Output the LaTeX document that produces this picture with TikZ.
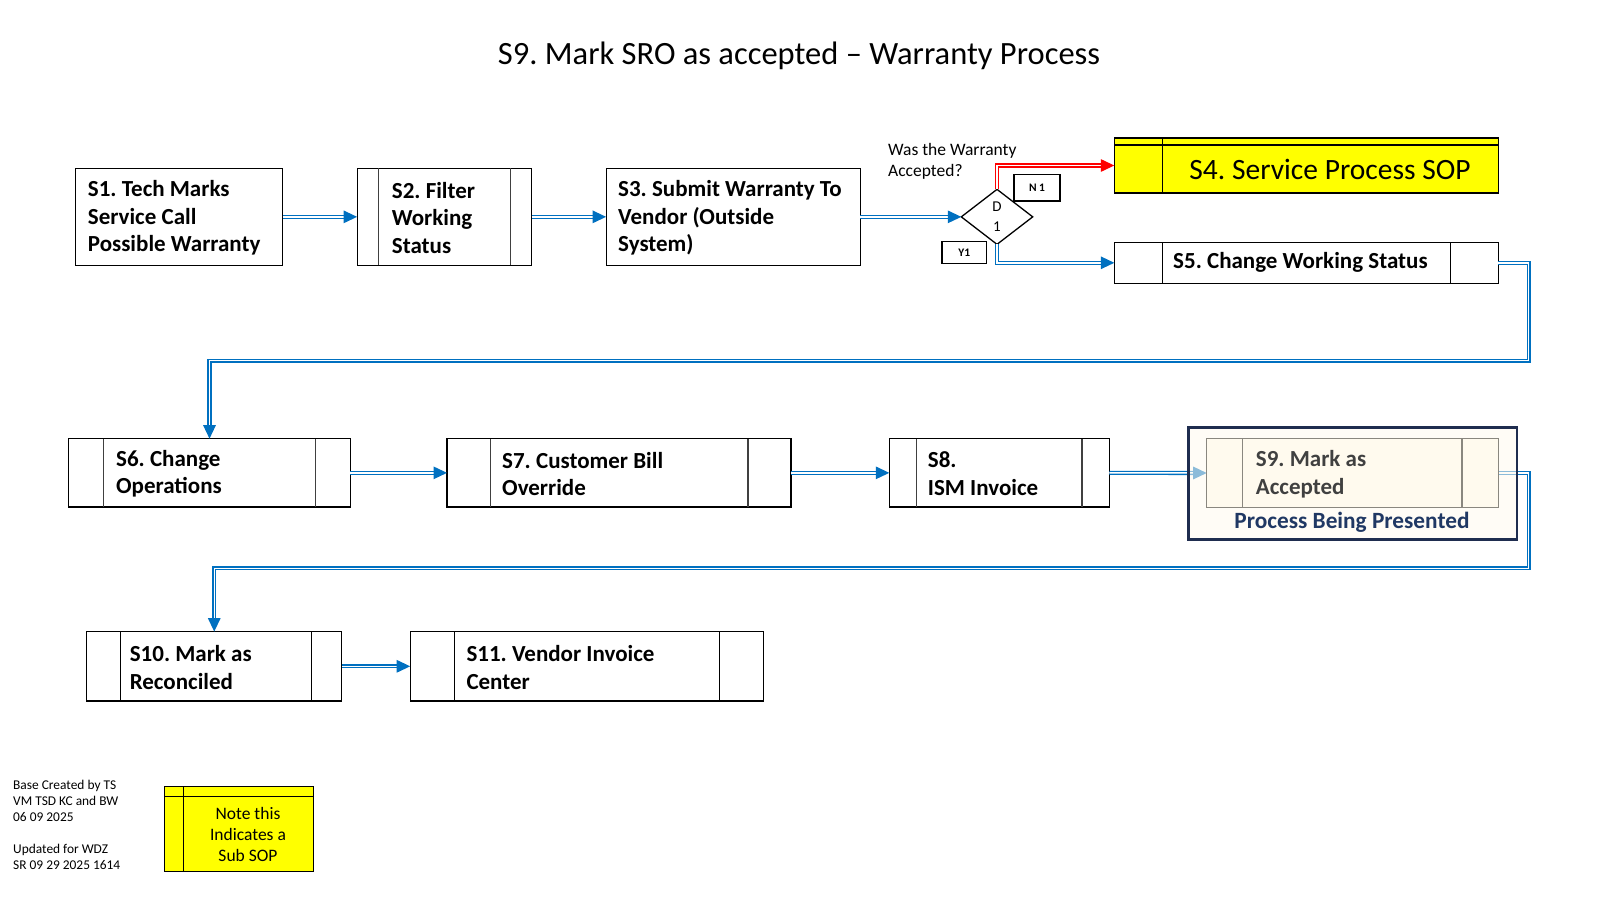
\documentclass[tikz,border=0pt]{standalone}
\usepackage{fontspec}
\setmainfont{Carlito}
\usetikzlibrary{arrows.meta,calc,shapes.geometric}
\definecolor{cblue}{HTML}{0070C0}
\definecolor{cred}{HTML}{FF0000}
\definecolor{cyel}{HTML}{FFFF00}
\definecolor{cream}{HTML}{FFFAEE}
\definecolor{navy}{HTML}{1F2D4F}
\definecolor{pnavy}{HTML}{203864}
\definecolor{igrey}{HTML}{8A877F}
\definecolor{itext}{HTML}{404040}
\begin{document}
\frenchspacing
\begin{tikzpicture}[x=1pt,y=-1pt,
  box/.style={draw=black, line width=1.1pt, rectangle, inner sep=0pt, outer sep=0pt},
  inl/.style={draw=black!75, line width=1.1pt},
  steptext/.style={anchor=west, align=left, inner sep=0pt, font=\bfseries\fontsize{23}{27.5}\selectfont},
  conn/.style={draw=cblue, line width=1.3pt, double=white, double distance=1.5pt, line join=miter, -{Triangle[length=13.5pt,width=12.5pt]}},
  rconn/.style={conn, draw=cred},
  tag/.style={box, line width=1.3pt, font=\bfseries\fontsize{11.5}{13}\selectfont},
]
\useasboundingbox (0,0) rectangle (1600,900);

% title
\node[font=\fontsize{32.5}{38}\selectfont] (title) at (799,56) {S9. Mark SRO as accepted -- Warranty Process};

% row 1
\node[box, minimum width=207.2, minimum height=96.9] (s1) at (179.1,216.85) {};
\node[steptext] (s1t) at ([xshift=12.2,yshift=-1]s1.west) {S1. Tech Marks\\Service Call\\Possible Warranty};

\node[box, minimum width=174.5, minimum height=96.9] (s2) at (444.35,216.85) {};
\draw[inl] ([xshift=21.5]s2.north west) -- ([xshift=21.5]s2.south west);
\draw[inl] ([xshift=-21.4]s2.north east) -- ([xshift=-21.4]s2.south east);
\node[steptext] (s2t) at ([xshift=34.6,yshift=-1]s2.west) {S2. Filter\\Working\\Status};

\node[box, minimum width=254.1, minimum height=96.9] (s3) at (733.15,216.85) {};
\node[steptext] (s3t) at ([xshift=11.9,yshift=-1]s3.west) {S3. Submit Warranty To\\Vendor (Outside\\System)};

\node[box, diamond, minimum width=71.4, minimum height=55, line width=1.3pt, align=center, font=\fontsize{15}{20.6}\selectfont] (d1) at (997,216.85) {D\\1};

\node[anchor=west, align=left, inner sep=0pt, font=\fontsize{17.5}{21}\selectfont] (q) at (888,161) {Was the Warranty\\Accepted?};

\node[tag, minimum width=46, minimum height=26.5] (n1) at (1037,187.75) {N 1};
\node[tag, minimum width=44.7, minimum height=21.5] (y1) at (964.35,252.55) {Y1};

\node[box, fill=cyel, minimum width=384, minimum height=55] (s4) at (1306.3,165.5) {};
\draw[inl, draw=black] ([yshift=-7]s4.north west) -- ([yshift=-7]s4.north east);
\draw[inl, draw=black] ([xshift=48]s4.north west) -- ([xshift=48]s4.south west);
\node[inner sep=0pt, font=\fontsize{29.5}{34}\selectfont] (s4t) at ($(s4.center)+(23.7,3.5)$) {S4. Service Process SOP};

\node[box, minimum width=384, minimum height=41] (s5) at (1306.3,262.8) {};
\draw[inl, draw=black] ([xshift=48]s5.north west) -- ([xshift=48]s5.south west);
\draw[inl, draw=black] ([xshift=-47.6]s5.north east) -- ([xshift=-47.6]s5.south east);
\node[steptext] (s5t) at ([xshift=58.7]s5.west) {S5. Change Working Status};

% row 2
\node[box, minimum width=281.6, minimum height=68.3] (s6) at (209.5,472.85) {};
\draw[inl] ([xshift=35]s6.north west) -- ([xshift=35]s6.south west);
\draw[inl] ([xshift=-35]s6.north east) -- ([xshift=-35]s6.south east);
\node[steptext] (s6t) at ([xshift=47.3,yshift=-1]s6.west) {S6. Change\\Operations};

\node[box, minimum width=344, minimum height=68.3] (s7) at (619,472.85) {};
\draw[inl] ([xshift=43.8]s7.north west) -- ([xshift=43.8]s7.south west);
\draw[inl] ([xshift=-43]s7.north east) -- ([xshift=-43]s7.south east);
\node[steptext] (s7t) at ([xshift=55,yshift=-1]s7.west) {S7. Customer Bill\\Override};

\node[box, minimum width=220, minimum height=68.3] (s8) at (999.3,472.85) {};
\draw[inl] ([xshift=27.4]s8.north west) -- ([xshift=27.4]s8.south west);
\draw[inl] ([xshift=-27.3]s8.north east) -- ([xshift=-27.3]s8.south east);
\node[steptext] (s8t) at ([xshift=38.4,yshift=-1]s8.west) {S8.\\ISM Invoice};

% S9 inner box position (for connector anchors)
\path (1352.5,473) node[minimum width=291.6, minimum height=68.6, inner sep=0pt, outer sep=0pt] (s9) {};

% row 3
\node[box, minimum width=255.1, minimum height=69.4] (s10) at (214.25,666.3) {};
\draw[inl, draw=black] ([xshift=33.7]s10.north west) -- ([xshift=33.7]s10.south west);
\draw[inl, draw=black] ([xshift=-30.6]s10.north east) -- ([xshift=-30.6]s10.south east);
\node[steptext] (s10t) at ([xshift=42.9,yshift=-1]s10.west) {S10. Mark as\\Reconciled};

\node[box, minimum width=353.1, minimum height=69.4] (s11) at (586.75,666.3) {};
\draw[inl, draw=black] ([xshift=43.9]s11.north west) -- ([xshift=43.9]s11.south west);
\draw[inl, draw=black] ([xshift=-43.9]s11.north east) -- ([xshift=-43.9]s11.south east);
\node[steptext] (s11t) at ([xshift=56.1,yshift=-1]s11.west) {S11. Vendor Invoice\\Center};

% connectors
\coordinate (c1) at (1528.6,360.7);
\coordinate (c2) at (1528.6,568.4);
\draw[conn] (s1.east) -- (s2.west);
\draw[conn] (s2.east) -- (s3.west);
\draw[conn] (s3.east) -- (d1.west);
\draw[rconn] (d1.north) |- (s4.west);
\draw[conn] (d1.south) |- (s5.west);
\draw[conn] (s5.east) -| (c1) -| (s6.north);
\draw[conn] (s6.east) -- (s7.west);
\draw[conn] (s7.east) -- (s8.west);
\draw[conn] (s8.east) -- (s9.west);
\draw[conn] (s9.east) -| (c2) -| (s10.north);
\draw[conn] (s10.east) -- (s11.west);

% S9 presented frame
\node[draw=navy, line width=2.6pt, fill=cream, fill opacity=0.55, draw opacity=1, minimum width=328.3, minimum height=112, inner sep=0pt, outer sep=0pt] (s9f) at (1352.85,483.7) {};
\node[draw=igrey, line width=1.1pt, fill=cream, minimum width=291.6, minimum height=68.6, inner sep=0pt, outer sep=0pt] (s9b) at (s9.center) {};
\draw[inl, draw=igrey] ([xshift=36]s9b.north west) -- ([xshift=36]s9b.south west);
\draw[inl, draw=igrey] ([xshift=-36.3]s9b.north east) -- ([xshift=-36.3]s9b.south east);
\node[steptext, text=itext] (s9t) at ([xshift=49,yshift=-1]s9b.west) {S9. Mark as\\Accepted};
\node[inner sep=0pt, text=pnavy, font=\bfseries\fontsize{23.3}{26}\selectfont] (pbp) at (1352,522) {Process Being Presented};

% notes
\node[anchor=north west, align=left, inner sep=0pt, font=\fontsize{13.4}{15.8}\selectfont] (base) at (13,780) {Base Created by TS\\VM TSD KC and BW\\06 09 2025};
\node[anchor=north west, align=left, inner sep=0pt, font=\fontsize{13.4}{15.8}\selectfont] (upd) at (13,844) {Updated for WDZ\\SR 09 29 2025 1614};

\node[box, fill=cyel, minimum width=148.6, minimum height=85] (note) at (239,829.2) {};
\draw[inl, draw=black] ([yshift=-10]note.north west) -- ([yshift=-10]note.north east);
\draw[inl, draw=black] ([xshift=18.6]note.north west) -- ([xshift=18.6]note.south west);
\node[align=center, inner sep=0pt, font=\fontsize{17.5}{21}\selectfont] (notet) at (248,834.5) {Note this\\Indicates a\\Sub SOP};
\end{tikzpicture}
\end{document}
